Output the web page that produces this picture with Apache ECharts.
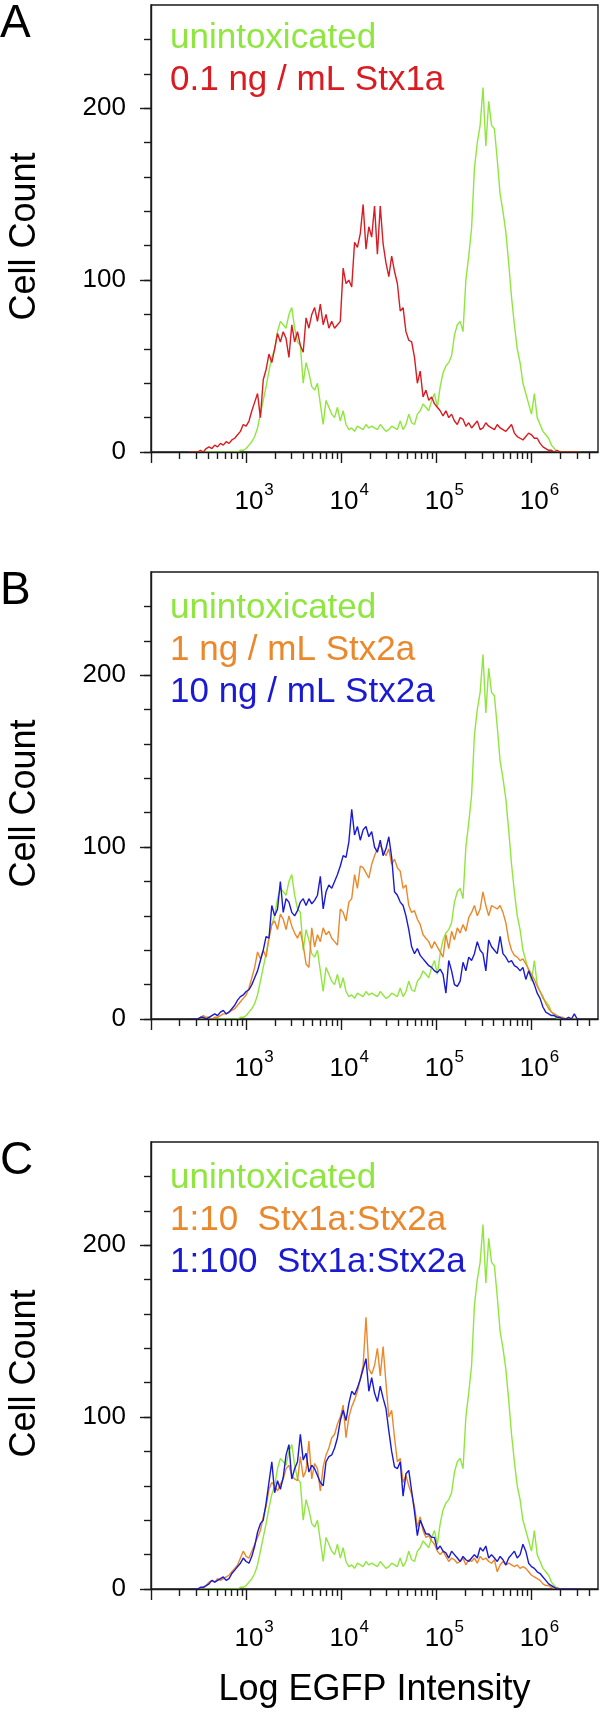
<!DOCTYPE html>
<html><head><meta charset="utf-8">
<script src="https://cdn.jsdelivr.net/npm/echarts@6/dist/echarts.min.js"></script>
<style>html,body{margin:0;padding:0;background:#fff}#chart{width:600px;height:1712px}</style>
</head><body><div id="chart"></div>
<script>
// Histogram bins: log10(EGFP intensity) bin centers start at 2.40, step 0.03 (138 bins)
const LOG_BIN_START = 2.40;
const LOG_BIN_STEP = 0.03;

const unintoxicated = [
  0,0,0,0,0,0,0,0,0,0,0,0,0,0,0,0,0,0,
  1,1,2,4,6,9,14,22,30,38,47,55,
  60,70,76,74,72,80,84,72,64,62,40,52,
  46,38,36,40,28,16,30,26,22,20,26,18,
  24,16,13,14,12,15,14,13,16,14,15,14,
  13,16,14,12,13,15,14,13,18,13,16,22,
  17,16,22,24,28,26,24,30,34,26,38,46,
  50,52,56,68,74,76,70,100,114,130,165,180,
  190,212,178,204,190,188,170,150,140,128,110,90,
  74,60,52,40,34,28,22,34,20,16,12,10,
  8,4,2,0,0,0,0,0,0,0,0,0
];
const stx1a_01ng = [
  0,0,0,0,1,0,2,3,2,4,3,5,
  4,6,5,7,8,10,12,16,15,18,24,29,
  34,20,42,48,57,52,60,69,64,70,66,55,
  74,64,70,62,58,78,72,80,84,76,86,74,
  80,72,76,72,74,76,107,98,100,96,122,119,
  127,144,118,131,125,143,115,143,121,110,102,114,
  105,98,82,84,70,65,64,55,40,47,32,36,
  30,32,28,26,24,21,24,20,22,18,16,20,
  19,15,17,14,16,18,13,14,17,15,14,13,
  16,14,13,12,14,16,11,9,8,7,9,11,
  10,8,8,5,3,2,1,1,0,1,0,0,
  0,0,0,0,0,0
];
const stx2a_1ng = [
  0,0,0,0,1,2,1,1,0,1,1,2,
  3,3,4,5,6,8,10,12,14,18,24,30,
  39,35,40,36,47,55,57,52,61,58,52,60,
  54,50,47,51,43,32,30,53,42,49,45,53,
  49,51,47,45,43,64,62,57,68,70,84,76,
  89,88,85,82,90,95,99,101,98,95,99,90,
  93,88,86,76,78,66,62,63,58,55,49,47,
  45,41,45,42,39,36,49,41,51,46,53,50,
  55,51,59,62,66,60,64,74,66,60,66,65,
  64,66,62,56,46,40,37,36,34,35,32,29,
  26,23,19,16,13,9,6,4,3,2,1,1,
  0,1,0,0,0,0
];
const stx2a_10ng = [
  0,0,0,0,1,1,0,1,2,3,2,4,
  5,3,4,6,8,11,13,14,16,17,20,24,
  28,34,40,48,47,66,60,64,80,62,70,68,
  62,60,63,68,70,66,70,67,69,72,83,64,
  74,78,76,80,84,89,95,94,103,122,107,112,
  104,110,112,106,109,100,97,104,95,99,106,94,
  74,72,68,66,60,52,42,38,41,37,35,33,
  31,30,28,27,29,26,15,34,28,20,19,22,
  33,28,36,34,38,45,40,38,28,46,42,40,
  38,48,38,36,33,34,31,30,28,30,23,28,
  24,20,15,12,7,4,3,2,2,1,1,0,
  0,1,0,3,0,0
];
const ratio_1_10 = [
  0,0,0,0,0,1,2,4,5,4,6,5,
  6,7,8,10,12,14,18,22,19,18,22,26,
  30,34,42,48,58,62,60,57,61,64,70,72,
  66,64,63,77,65,69,86,64,73,70,57,71,
  78,82,88,90,96,100,107,88,100,106,110,115,
  122,130,158,128,125,130,140,124,141,120,100,104,
  88,74,76,62,66,60,55,48,36,42,34,30,
  31,28,26,22,20,22,19,16,18,17,15,16,
  18,14,17,16,18,15,19,17,18,16,15,17,
  10,14,16,14,15,14,13,14,12,13,12,10,
  8,7,6,5,3,2,2,1,0,1,0,0,
  0,0,0,0,0,0
];
const ratio_1_100 = [
  0,0,0,0,1,1,2,3,5,4,5,6,
  7,5,6,9,11,13,15,18,16,15,19,25,
  33,38,40,50,62,74,56,63,58,65,78,84,
  64,70,74,90,75,79,68,72,70,66,62,60,
  74,77,78,82,88,98,104,98,108,115,113,117,
  122,128,134,115,123,114,109,118,111,105,92,80,
  71,70,74,54,67,69,57,45,31,40,36,32,
  32,30,30,23,25,22,21,18,22,20,18,16,
  19,17,16,18,20,18,24,22,25,18,20,18,
  16,19,17,14,18,20,22,18,20,26,22,15,
  13,12,10,9,7,5,3,2,1,0,0,0,
  0,0,0,0,0,0
];

// Axis ticks and labels
const yMajorTicks = [0, 100, 200];
const yMinorTicks = [0, 20, 40, 60, 80, 100, 120, 140, 160, 180, 200, 220, 240];
const xMajorTicks = [1e2, 1e3, 1e4, 1e5, 1e6];
const xMinorTicks = [2e2,3e2,4e2,5e2,6e2,7e2,8e2,9e2, 2e3,3e3,4e3,5e3,6e3,7e3,8e3,9e3,
  2e4,3e4,4e4,5e4,6e4,7e4,8e4,9e4, 2e5,3e5,4e5,5e5,6e5,7e5,8e5,9e5, 2e6,3e6,4e6];
const xLabelValues = [1e3, 1e4, 1e5, 1e6];
const panelLetters = ['A', 'B', 'C'];
const yAxisTitle = 'Cell Count';
const xAxisTitle = 'Log EGFP Intensity';

const FONT = '"Liberation Sans", Arial, Helvetica, sans-serif';
const GREEN = '#8fe63e', RED = '#d81c22', ORANGE = '#ea882c', BLUE = '#1a1ad2';
const AXIS = '#1a1a1a';

const panels = [
  { top: 5, legendTop: 21, series: [
    { name: 'unintoxicated', data: unintoxicated, color: GREEN },
    { name: '0.1 ng / mL Stx1a', data: stx1a_01ng, color: RED } ] },
  { top: 572, legendTop: 591, series: [
    { name: 'unintoxicated', data: unintoxicated, color: GREEN },
    { name: '1 ng / mL Stx2a', data: stx2a_1ng, color: ORANGE },
    { name: '10 ng / mL Stx2a', data: stx2a_10ng, color: BLUE } ] },
  { top: 1142, legendTop: 1161, series: [
    { name: 'unintoxicated', data: unintoxicated, color: GREEN },
    { name: '1:10  Stx1a:Stx2a', data: ratio_1_10, color: ORANGE },
    { name: '1:100  Stx1a:Stx2a', data: ratio_1_100, color: BLUE } ] }
];
const PLOT_H = 447;

const bins = unintoxicated.map((_, i) => Math.pow(10, LOG_BIN_START + i * LOG_BIN_STEP));
const toPairs = arr => arr.map((v, i) => [bins[i], v]);

const option = {
  animation: false,
  backgroundColor: '#fff',
  textStyle: { fontFamily: FONT },
  title: [], grid: [], xAxis: [], yAxis: [], legend: [], series: []
};

panels.forEach((p, k) => {
  option.title.push({ text: panelLetters[k], left: 0, top: p.top - 4, padding: 0,
    textStyle: { fontSize: 46, fontWeight: 'normal', color: '#000', fontFamily: FONT } });
  option.grid.push({ left: 151, right: 2, top: p.top, height: PLOT_H, show: true,
    outerBoundsMode: 'none', containLabel: false,
    borderColor: AXIS, borderWidth: 1.4, backgroundColor: 'transparent' });
  const lineStyle = { color: AXIS, width: 1.4 };
  option.xAxis.push({ type: 'log', logBase: 10, gridIndex: k, position: 'bottom', min: 100, max: 5e6, z: 10,
    axisLine: { show: true, onZero: false, lineStyle }, splitLine: { show: false },
    axisTick: { show: true, customValues: xMinorTicks, length: 7, lineStyle },
    axisLabel: { show: false } });
  option.xAxis.push({ type: 'log', logBase: 10, gridIndex: k, position: 'bottom', min: 100, max: 5e6, z: 10,
    axisLine: { show: false, onZero: false }, splitLine: { show: false },
    axisTick: { show: true, customValues: xMajorTicks, length: 11, lineStyle },
    axisLabel: { show: true, customValues: xLabelValues, margin: 30, color: '#000',
      formatter: v => '{b|10}{sup|' + Math.round(Math.log10(v)) + '}',
      rich: { b: { fontSize: 26, fontFamily: FONT, color: '#000', verticalAlign: 'bottom', padding: [0, 0, 0, 16] },
              sup: { fontSize: 17, fontFamily: FONT, color: '#000', verticalAlign: 'top', padding: [0, 0, 16, 1] } } },
    name: k === 2 ? xAxisTitle : '', nameLocation: 'middle', nameGap: 83,
    nameTextStyle: { fontSize: 36, color: '#000', fontFamily: FONT } });
  option.yAxis.push({ type: 'value', gridIndex: k, position: 'left', min: 0, max: 260, z: 10,
    axisLine: { show: true, onZero: false, lineStyle }, splitLine: { show: false },
    axisTick: { show: true, customValues: yMinorTicks, length: 7, lineStyle },
    axisLabel: { show: false } });
  option.yAxis.push({ type: 'value', gridIndex: k, position: 'left', min: 0, max: 260, z: 10,
    axisLine: { show: false, onZero: false }, splitLine: { show: false },
    axisTick: { show: true, customValues: yMajorTicks, length: 11, lineStyle },
    axisLabel: { show: true, customValues: yMajorTicks, margin: 25, fontSize: 26, color: '#000', fontFamily: FONT },
    name: yAxisTitle, nameLocation: 'middle', nameGap: 108, nameRotate: 90,
    nameTextStyle: { fontSize: 36, color: '#000', fontFamily: FONT, padding: [0, 16, 0, 0] } });
  option.legend.push({ orient: 'vertical', left: 165, top: p.legendTop, itemWidth: 0, itemHeight: 0,
    itemGap: 7, icon: 'none', selectedMode: false, padding: 0,
    textStyle: { fontSize: 35, fontFamily: FONT },
    data: p.series.map(s => ({ name: s.name, textStyle: { color: s.color, fontSize: 35 } })) });
  p.series.forEach((s, j) => {
    option.series.push({ type: 'line', name: s.name, xAxisIndex: 2 * k + 1, yAxisIndex: 2 * k + 1,
      data: toPairs(s.data), showSymbol: false, symbol: 'none', z: 2 + j,
      lineStyle: { color: s.color, width: 1.4 }, itemStyle: { color: s.color } });
  });
});

const chart = echarts.init(document.getElementById('chart'), null, { renderer: 'canvas' });
chart.setOption(option);
</script>
</body></html>
